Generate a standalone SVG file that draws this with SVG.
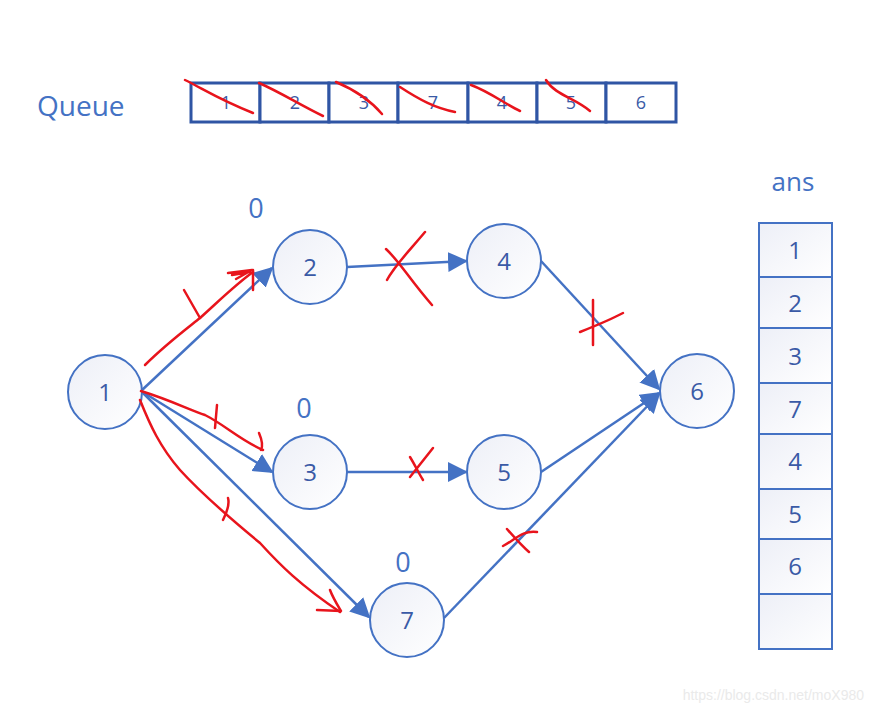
<svg xmlns="http://www.w3.org/2000/svg" width="874" height="713" viewBox="0 0 874 713">
<defs>
<linearGradient id="nf" x1="0" y1="0" x2="1" y2="1">
<stop offset="0" stop-color="#EDEFF7"/>
<stop offset="1" stop-color="#FFFFFF"/>
</linearGradient>
<marker id="ahb" viewBox="0 0 10 10" refX="9" refY="5" markerWidth="20" markerHeight="20" markerUnits="userSpaceOnUse" orient="auto">
<path d="M0,0 L10,5 L0,10 Z" fill="#4472C4"/>
</marker>
</defs>
<style>
.node circle{fill:url(#nf);stroke:#4472C4;stroke-width:2}
.lbl{font-family:"Open Sans","Liberation Sans",sans-serif;fill:#4472C4;text-anchor:middle}
.nt{font-family:"Open Sans","Liberation Sans",sans-serif;fill:#3A5AA6;font-size:24px;text-anchor:middle}
.qc{fill:#fff;stroke:#2F55A4;stroke-width:3}
.qt{font-family:"Open Sans","Liberation Sans",sans-serif;fill:#3A5AA6;font-size:18px;text-anchor:middle}
.ac{fill:url(#nf);stroke:#4472C4;stroke-width:2}
.edge{stroke:#4472C4;stroke-width:2.5;fill:none;marker-end:url(#ahb)}
.red{stroke:#E8141C;stroke-width:2.5;fill:none;stroke-linecap:round;stroke-linejoin:round}
</style>

<text x="37" y="116" font-family="Open Sans, Liberation Sans, sans-serif" font-size="28" fill="#4472C4">Queue</text>

<g id="queue">
<rect class="qc" x="191" y="83" width="69" height="39"/>
<rect class="qc" x="260" y="83" width="69" height="39"/>
<rect class="qc" x="329" y="83" width="69" height="39"/>
<rect class="qc" x="398" y="83" width="70" height="39"/>
<rect class="qc" x="468" y="83" width="69" height="39"/>
<rect class="qc" x="537" y="83" width="69" height="39"/>
<rect class="qc" x="606" y="83" width="70" height="39"/>
<text class="qt" x="226" y="109">1</text>
<text class="qt" x="295" y="109">2</text>
<text class="qt" x="364" y="109">3</text>
<text class="qt" x="433" y="109">7</text>
<text class="qt" x="502" y="109">4</text>
<text class="qt" x="571" y="109">5</text>
<text class="qt" x="641" y="109">6</text>
</g>

<text class="lbl" x="793" y="191" font-size="26">ans</text>
<g id="ans">
<rect class="ac" x="759" y="223" width="73" height="54"/>
<rect class="ac" x="759" y="277" width="73" height="51"/>
<rect class="ac" x="759" y="328" width="73" height="55"/>
<rect class="ac" x="759" y="383" width="73" height="51"/>
<rect class="ac" x="759" y="434" width="73" height="55"/>
<rect class="ac" x="759" y="489" width="73" height="50"/>
<rect class="ac" x="759" y="539" width="73" height="55"/>
<rect class="ac" x="759" y="594" width="73" height="55"/>
<text class="nt" x="795" y="259">1</text>
<text class="nt" x="795" y="312">2</text>
<text class="nt" x="795" y="365">3</text>
<text class="nt" x="795" y="418">7</text>
<text class="nt" x="795" y="470">4</text>
<text class="nt" x="795" y="523">5</text>
<text class="nt" x="795" y="575">6</text>
</g>

<g id="connectors">
<line class="edge" x1="141" y1="391" x2="272" y2="268"/>
<line class="edge" x1="347" y1="267" x2="466" y2="261"/>
<line class="edge" x1="541" y1="261" x2="659" y2="389"/>
<line class="edge" x1="141" y1="391" x2="272" y2="472"/>
<line class="edge" x1="347" y1="472" x2="466" y2="472"/>
<line class="edge" x1="541" y1="472" x2="659" y2="393"/>
<line class="edge" x1="141" y1="391" x2="369" y2="617"/>
<line class="edge" x1="444" y1="618" x2="659" y2="394"/>
</g>

<g id="n1" class="node"><circle cx="105" cy="392" r="37"/><text class="nt" x="105" y="401">1</text></g>
<g id="n2" class="node"><circle cx="310" cy="267" r="37"/><text class="nt" x="310" y="276">2</text></g>
<g id="n4" class="node"><circle cx="504" cy="261" r="37"/><text class="nt" x="504" y="270">4</text></g>
<g id="n6" class="node"><circle cx="697" cy="391" r="37"/><text class="nt" x="697" y="400">6</text></g>
<g id="n3" class="node"><circle cx="310" cy="472" r="37"/><text class="nt" x="310" y="481">3</text></g>
<g id="n5" class="node"><circle cx="504" cy="472" r="37"/><text class="nt" x="504" y="481">5</text></g>
<g id="n7" class="node"><circle cx="407" cy="620" r="37"/><text class="nt" x="407" y="629">7</text></g>

<text class="lbl" x="256" y="218" font-size="27">0</text>
<text class="lbl" x="304" y="418" font-size="27">0</text>
<text class="lbl" x="403" y="572" font-size="27">0</text>

<g id="red-marks">
<path class="red" d="M185,80 C205,90 220,100 253,113"/>
<path class="red" d="M259,83 C280,92 300,105 323,116"/>
<path class="red" d="M336,82 C355,90 370,100 382,114"/>
<path class="red" d="M400,87 C420,100 435,108 455,112"/>
<path class="red" d="M471,85 C490,92 505,104 520,111"/>
<path class="red" d="M546,80 C555,95 575,98 590,111"/>
<path class="red" d="M145,365 C165,345 185,330 200,318 C220,300 235,285 253,272"/>
<path class="red" d="M228,273 L252,270 L236,279 M232,275 L250,272"/>
<path class="red" d="M253,270 L253,290"/>
<path class="red" d="M184,290 L200,318"/>
<path class="red" d="M141,391 C170,400 190,410 205,415 C225,425 240,440 263,450"/>
<path class="red" d="M259,433 C262,440 263,446 261,450"/>
<path class="red" d="M217,405 L215,428"/>
<path class="red" d="M140,400 C150,425 160,447 180,470 C200,492 220,510 260,543 C280,565 300,585 340,612"/>
<path class="red" d="M330,590 C333,598 338,606 341,611 L317,610"/>
<path class="red" d="M228,498 C230,505 226,514 223,520"/>
<path class="red" d="M425,232 C410,250 395,265 387,280"/>
<path class="red" d="M386,249 C400,262 410,280 432,305"/>
<path class="red" d="M593,300 L593,345"/>
<path class="red" d="M580,332 C595,326 610,320 623,313"/>
<path class="red" d="M433,448 C425,458 418,467 410,477"/>
<path class="red" d="M410,457 C415,465 418,472 423,480"/>
<path class="red" d="M503,546 C515,540 522,530 537,532"/>
<path class="red" d="M507,529 C515,538 522,546 529,552"/>
</g>

<text x="864" y="700" font-family="Liberation Sans, Arial, sans-serif" font-size="14" fill="#EAEAEA" text-anchor="end">https://blog.csdn.net/moX980</text>
</svg>
